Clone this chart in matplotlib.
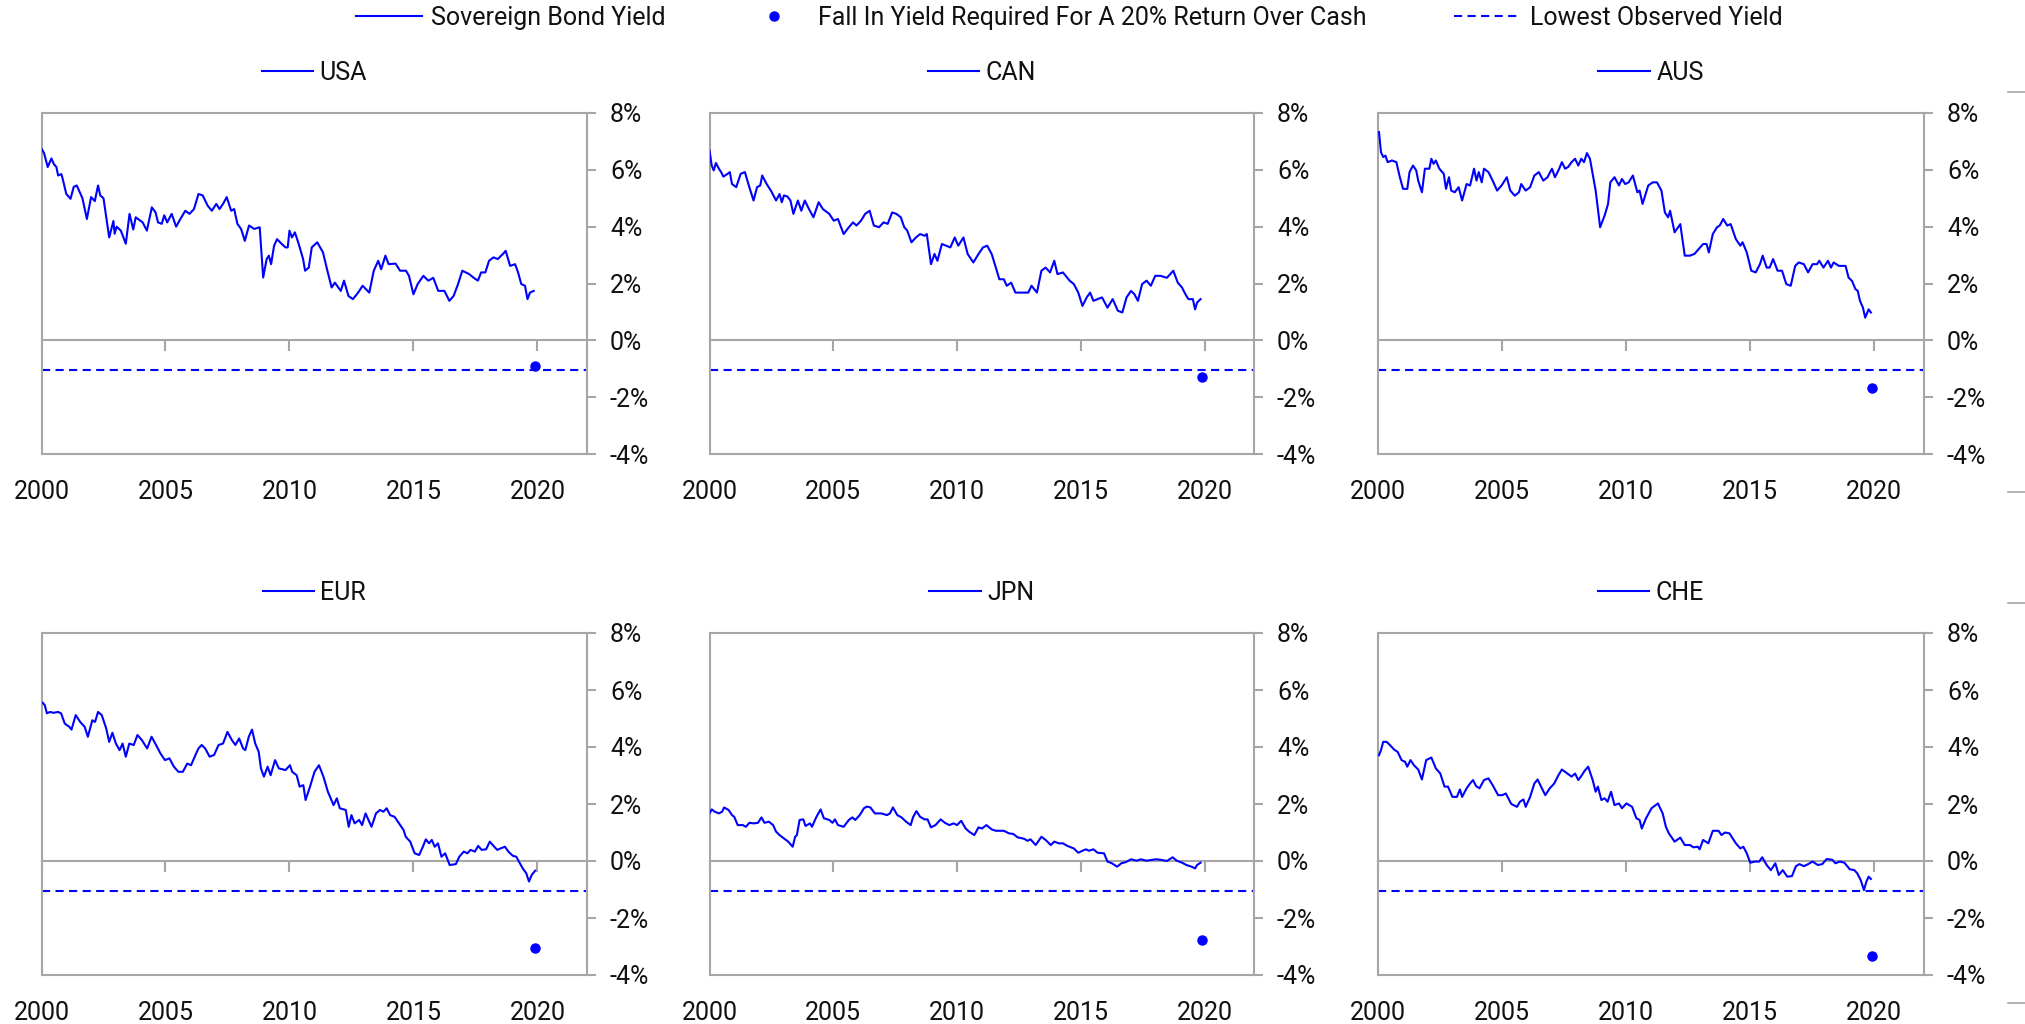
import matplotlib
matplotlib.use("Agg")
import matplotlib.pyplot as plt
from matplotlib.lines import Line2D

# 10y sovereign bond yields (%), sampled from 2000 to late 2019
usa_t = [2000.0, 2000.1, 2000.25, 2000.4, 2000.5, 2000.6, 2000.67, 2000.8, 2000.85, 2001.0,
         2001.1, 2001.17, 2001.3, 2001.42, 2001.5, 2001.65, 2001.83, 2002.0, 2002.15, 2002.28,
         2002.37, 2002.5, 2002.73, 2002.9, 2002.95, 2003.03, 2003.2, 2003.4, 2003.55, 2003.7,
         2003.8, 2004.08, 2004.25, 2004.45, 2004.6, 2004.7, 2004.85, 2004.95, 2005.07, 2005.25,
         2005.43, 2005.6, 2005.8, 2005.97, 2006.15, 2006.33, 2006.5, 2006.7, 2006.87, 2007.05,
         2007.18, 2007.32, 2007.47, 2007.65, 2007.77, 2007.9, 2008.05, 2008.2, 2008.37, 2008.58,
         2008.8, 2008.94, 2009.08, 2009.17, 2009.26, 2009.38, 2009.5, 2009.68, 2009.84, 2009.93,
         2010.0, 2010.1, 2010.22, 2010.37, 2010.55, 2010.63, 2010.78, 2010.9, 2011.12, 2011.35,
         2011.53, 2011.7, 2011.83, 2012.07, 2012.2, 2012.38, 2012.56, 2012.77, 2012.95, 2013.22,
         2013.4, 2013.58, 2013.7, 2013.87, 2014.0, 2014.28, 2014.46, 2014.7, 2014.82, 2015.0,
         2015.17, 2015.4, 2015.6, 2015.8, 2016.0, 2016.25, 2016.45, 2016.62, 2016.8, 2016.97,
         2017.25, 2017.43, 2017.6, 2017.73, 2017.9, 2018.05, 2018.23, 2018.4, 2018.6, 2018.72,
         2018.9, 2019.1, 2019.22, 2019.35, 2019.5, 2019.6, 2019.7, 2019.85]
usa_y = [6.74, 6.6, 6.1, 6.4, 6.2, 6.1, 5.8, 5.85, 5.7, 5.15,
         5.05, 4.98, 5.4, 5.45, 5.3, 5.0, 4.27, 5.04, 4.9, 5.45,
         5.1, 5.0, 3.62, 4.2, 3.75, 4.0, 3.86, 3.4, 4.45, 3.9,
         4.33, 4.15, 3.86, 4.68, 4.5, 4.15, 4.1, 4.4, 4.15, 4.45,
         4.0, 4.27, 4.56, 4.45, 4.62, 5.15, 5.1, 4.74, 4.56, 4.8,
         4.62, 4.8, 5.04, 4.56, 4.62, 4.1, 3.92, 3.5, 4.04, 3.92,
         3.98, 2.21, 2.86, 2.98, 2.68, 3.33, 3.56, 3.4, 3.27, 3.27,
         3.86, 3.62, 3.8, 3.4, 2.86, 2.45, 2.56, 3.27, 3.45, 3.1,
         2.45, 1.86, 2.03, 1.74, 2.1, 1.56, 1.45, 1.68, 1.92, 1.68,
         2.45, 2.8, 2.5, 2.98, 2.68, 2.7, 2.45, 2.45, 2.27, 1.62,
         1.98, 2.27, 2.1, 2.2, 1.74, 1.74, 1.39, 1.56, 1.98, 2.45,
         2.33, 2.2, 2.1, 2.39, 2.39, 2.8, 2.92, 2.86, 3.03, 3.15,
         2.62, 2.68, 2.39, 1.98, 1.92, 1.45, 1.68, 1.74]

can_t = [2000.0, 2000.09, 2000.17, 2000.26, 2000.38, 2000.47, 2000.56, 2000.73, 2000.82, 2000.91,
         2001.08, 2001.26, 2001.43, 2001.61, 2001.78, 2001.92, 2002.05, 2002.13, 2002.31, 2002.48,
         2002.69, 2002.83, 2002.92, 2003.01, 2003.15, 2003.27, 2003.39, 2003.57, 2003.71, 2003.85,
         2004.02, 2004.2, 2004.41, 2004.58, 2004.84, 2005.02, 2005.19, 2005.42, 2005.63, 2005.8,
         2005.94, 2006.12, 2006.29, 2006.47, 2006.64, 2006.85, 2007.03, 2007.2, 2007.38, 2007.55,
         2007.73, 2007.87, 2007.99, 2008.16, 2008.34, 2008.51, 2008.69, 2008.78, 2008.95, 2009.09,
         2009.21, 2009.39, 2009.56, 2009.73, 2009.91, 2010.05, 2010.26, 2010.43, 2010.66, 2010.87,
         2011.05, 2011.22, 2011.4, 2011.57, 2011.71, 2011.89, 2012.01, 2012.19, 2012.36, 2012.62,
         2012.88, 2013.01, 2013.23, 2013.41, 2013.58, 2013.76, 2013.93, 2014.06, 2014.28, 2014.55,
         2014.72, 2014.9, 2015.07, 2015.24, 2015.38, 2015.51, 2015.68, 2015.86, 2016.08, 2016.29,
         2016.5, 2016.68, 2016.85, 2017.03, 2017.17, 2017.31, 2017.48, 2017.66, 2017.83, 2018.01,
         2018.22, 2018.48, 2018.74, 2018.92, 2019.09, 2019.23, 2019.35, 2019.53, 2019.62, 2019.7,
         2019.84]
can_y = [6.68, 6.15, 5.98, 6.24, 6.04, 5.92, 5.76, 5.86, 5.92, 5.5,
         5.39, 5.86, 5.92, 5.39, 4.92, 5.39, 5.45, 5.8, 5.5, 5.27,
         4.92, 5.15, 4.86, 5.1, 5.06, 4.92, 4.45, 4.92, 4.56, 4.92,
         4.62, 4.33, 4.86, 4.62, 4.45, 4.21, 4.27, 3.74, 3.98, 4.15,
         4.04, 4.21, 4.45, 4.56, 4.04, 3.98, 4.15, 4.1, 4.5, 4.45,
         4.33, 3.98, 3.86, 3.45, 3.62, 3.74, 3.68, 3.74, 2.68, 3.04,
         2.8, 3.39, 3.33, 3.27, 3.62, 3.33, 3.62, 3.04, 2.74, 3.04,
         3.27, 3.33, 3.04, 2.56, 2.15, 2.15, 1.92, 2.03, 1.68, 1.68,
         1.68, 1.92, 1.68, 2.45, 2.56, 2.39, 2.8, 2.33, 2.39, 2.1,
         1.98, 1.68, 1.21, 1.51, 1.68, 1.39, 1.45, 1.51, 1.15, 1.45,
         1.04, 0.98, 1.51, 1.74, 1.62, 1.39, 1.98, 2.1, 1.92, 2.27,
         2.27, 2.2, 2.45, 2.03, 1.86, 1.62, 1.45, 1.45, 1.09, 1.33,
         1.45]

aus_t = [2000.04, 2000.12, 2000.21, 2000.3, 2000.39, 2000.56, 2000.74, 2000.88, 2001.01, 2001.18,
         2001.27, 2001.41, 2001.54, 2001.62, 2001.77, 2001.89, 2002.07, 2002.15, 2002.24, 2002.33,
         2002.47, 2002.65, 2002.74, 2002.86, 2002.95, 2003.09, 2003.25, 2003.39, 2003.57, 2003.71,
         2003.87, 2003.97, 2004.06, 2004.18, 2004.27, 2004.45, 2004.62, 2004.8, 2004.98, 2005.19,
         2005.33, 2005.51, 2005.68, 2005.77, 2005.95, 2006.13, 2006.3, 2006.48, 2006.66, 2006.83,
         2007.01, 2007.13, 2007.27, 2007.41, 2007.54, 2007.66, 2007.8, 2007.94, 2008.07, 2008.19,
         2008.3, 2008.42, 2008.54, 2008.77, 2008.95, 2009.13, 2009.27, 2009.36, 2009.53, 2009.71,
         2009.83, 2009.96, 2010.1, 2010.27, 2010.45, 2010.54, 2010.66, 2010.89, 2011.07, 2011.24,
         2011.42, 2011.56, 2011.69, 2011.77, 2011.95, 2012.18, 2012.36, 2012.57, 2012.75, 2012.92,
         2013.1, 2013.24, 2013.33, 2013.49, 2013.66, 2013.77, 2013.91, 2014.07, 2014.21, 2014.42,
         2014.6, 2014.69, 2014.86, 2015.04, 2015.22, 2015.39, 2015.5, 2015.66, 2015.78, 2015.92,
         2016.1, 2016.28, 2016.45, 2016.63, 2016.81, 2016.95, 2017.16, 2017.33, 2017.51, 2017.69,
         2017.78, 2017.95, 2018.13, 2018.25, 2018.36, 2018.57, 2018.71, 2018.84, 2018.96, 2019.1,
         2019.24, 2019.33, 2019.42, 2019.54, 2019.63, 2019.77, 2019.86]
aus_y = [7.33, 6.62, 6.45, 6.5, 6.27, 6.33, 6.27, 5.74, 5.33, 5.33,
         5.92, 6.15, 5.98, 5.62, 5.21, 6.04, 6.04, 6.39, 6.21, 6.33,
         6.04, 5.86, 5.33, 5.74, 5.27, 5.21, 5.39, 4.92, 5.5, 5.45,
         6.04, 5.62, 5.92, 5.56, 6.04, 5.92, 5.62, 5.27, 5.45, 5.74,
         5.27, 5.09, 5.21, 5.5, 5.27, 5.39, 5.8, 5.92, 5.62, 5.74,
         6.04, 5.74, 5.98, 6.27, 6.04, 6.1, 6.27, 6.39, 6.15, 6.39,
         6.27, 6.59, 6.39, 5.27, 3.98, 4.39, 4.8, 5.56, 5.74, 5.45,
         5.68, 5.5, 5.56, 5.8, 5.21, 5.27, 4.8, 5.45, 5.56, 5.56,
         5.27, 4.5, 4.33, 4.56, 3.8, 4.09, 2.98, 2.98, 3.04, 3.21,
         3.39, 3.39, 3.09, 3.74, 3.98, 4.04, 4.27, 4.04, 4.09, 3.56,
         3.33, 3.45, 3.09, 2.45, 2.39, 2.68, 2.98, 2.56, 2.56, 2.86,
         2.45, 2.45, 1.98, 1.92, 2.62, 2.74, 2.68, 2.39, 2.68, 2.68,
         2.8, 2.56, 2.8, 2.56, 2.74, 2.62, 2.62, 2.62, 2.21, 2.09,
         1.8, 1.74, 1.39, 1.15, 0.8, 1.09, 0.98]

eur_t = [2000.05, 2000.13, 2000.22, 2000.34, 2000.49, 2000.67, 2000.79, 2000.94, 2001.12, 2001.21,
         2001.38, 2001.56, 2001.74, 2001.87, 2002.05, 2002.16, 2002.28, 2002.43, 2002.61, 2002.73,
         2002.86, 2003.0, 2003.15, 2003.27, 2003.4, 2003.54, 2003.72, 2003.87, 2004.05, 2004.26,
         2004.44, 2004.62, 2004.8, 2004.98, 2005.16, 2005.34, 2005.52, 2005.7, 2005.88, 2006.03,
         2006.21, 2006.33, 2006.46, 2006.6, 2006.78, 2006.96, 2007.14, 2007.32, 2007.5, 2007.68,
         2007.82, 2007.97, 2008.13, 2008.22, 2008.36, 2008.49, 2008.62, 2008.76, 2008.85, 2008.97,
         2009.12, 2009.24, 2009.42, 2009.57, 2009.84, 2010.02, 2010.11, 2010.29, 2010.41, 2010.56,
         2010.65, 2010.83, 2011.01, 2011.19, 2011.37, 2011.55, 2011.78, 2011.91, 2012.03, 2012.27,
         2012.39, 2012.5, 2012.63, 2012.81, 2012.93, 2013.07, 2013.31, 2013.49, 2013.65, 2013.79,
         2013.92, 2014.06, 2014.24, 2014.42, 2014.6, 2014.69, 2014.87, 2015.05, 2015.23, 2015.38,
         2015.5, 2015.63, 2015.74, 2015.86, 2015.99, 2016.13, 2016.28, 2016.46, 2016.71, 2016.85,
         2017.03, 2017.18, 2017.3, 2017.48, 2017.61, 2017.75, 2017.93, 2018.08, 2018.26, 2018.38,
         2018.51, 2018.69, 2018.83, 2019.01, 2019.15, 2019.28, 2019.41, 2019.55, 2019.66, 2019.77,
         2019.91]
eur_y = [5.55, 5.47, 5.18, 5.23, 5.2, 5.23, 5.18, 4.82, 4.71, 4.61,
         5.12, 4.88, 4.71, 4.36, 4.94, 4.88, 5.23, 5.12, 4.65, 4.18,
         4.5, 4.12, 3.89, 4.12, 3.66, 4.12, 4.07, 4.42, 4.24, 3.95,
         4.36, 4.07, 3.77, 3.54, 3.6, 3.31, 3.13, 3.13, 3.42, 3.36,
         3.72, 3.95, 4.07, 3.95, 3.66, 3.72, 4.07, 4.12, 4.53, 4.24,
         4.07, 4.3, 3.95, 3.89, 4.36, 4.61, 4.12, 3.83, 3.25, 2.96,
         3.31, 3.01, 3.54, 3.25, 3.19, 3.36, 3.13, 3.01, 2.61, 2.66,
         2.14, 2.61, 3.13, 3.36, 2.96, 2.43, 1.96, 2.2, 1.85, 1.79,
         1.2, 1.61, 1.32, 1.44, 1.26, 1.67, 1.2, 1.67, 1.79, 1.73,
         1.85, 1.61, 1.55, 1.32, 1.09, 0.85, 0.68, 0.27, 0.21, 0.5,
         0.76, 0.62, 0.74, 0.5, 0.62, 0.15, 0.27, -0.14, -0.11, 0.15,
         0.33, 0.27, 0.39, 0.33, 0.53, 0.39, 0.41, 0.68, 0.5, 0.39,
         0.44, 0.5, 0.33, 0.18, 0.15, -0.06, -0.26, -0.43, -0.72, -0.49,
         -0.34]

jpn_t = [2000.0, 2000.09, 2000.21, 2000.38, 2000.51, 2000.59, 2000.77, 2000.91, 2001.0, 2001.14,
         2001.35, 2001.47, 2001.61, 2001.78, 2001.96, 2002.1, 2002.22, 2002.4, 2002.57, 2002.69,
         2002.83, 2003.01, 2003.18, 2003.36, 2003.46, 2003.53, 2003.64, 2003.79, 2003.88, 2004.06,
         2004.14, 2004.32, 2004.49, 2004.62, 2004.84, 2004.97, 2005.07, 2005.19, 2005.42, 2005.63,
         2005.77, 2005.89, 2006.07, 2006.24, 2006.36, 2006.5, 2006.68, 2006.94, 2007.17, 2007.29,
         2007.41, 2007.59, 2007.76, 2007.94, 2008.13, 2008.22, 2008.36, 2008.51, 2008.69, 2008.81,
         2008.95, 2009.13, 2009.34, 2009.51, 2009.69, 2009.86, 2010.0, 2010.17, 2010.35, 2010.49,
         2010.7, 2010.87, 2011.01, 2011.19, 2011.4, 2011.57, 2011.89, 2012.1, 2012.27, 2012.45,
         2012.71, 2012.85, 2012.97, 2013.18, 2013.41, 2013.58, 2013.79, 2013.93, 2014.11, 2014.28,
         2014.46, 2014.72, 2014.9, 2015.07, 2015.21, 2015.33, 2015.51, 2015.68, 2015.94, 2016.08,
         2016.26, 2016.47, 2016.64, 2016.82, 2017.03, 2017.26, 2017.43, 2017.66, 2017.87, 2018.04,
         2018.25, 2018.48, 2018.71, 2018.88, 2019.09, 2019.27, 2019.48, 2019.62, 2019.7, 2019.84]
jpn_y = [1.67, 1.81, 1.73, 1.67, 1.73, 1.88, 1.79, 1.61, 1.55, 1.26,
         1.26, 1.2, 1.34, 1.32, 1.34, 1.53, 1.34, 1.38, 1.26, 1.03,
         0.91, 0.79, 0.68, 0.5, 0.85, 0.91, 1.44, 1.46, 1.23, 1.32,
         1.2, 1.55, 1.81, 1.5, 1.44, 1.34, 1.46, 1.26, 1.2, 1.44,
         1.53, 1.44, 1.61, 1.85, 1.91, 1.88, 1.67, 1.67, 1.61, 1.67,
         1.88, 1.61, 1.53, 1.38, 1.26, 1.53, 1.75, 1.55, 1.46, 1.46,
         1.18, 1.26, 1.46, 1.34, 1.26, 1.32, 1.26, 1.41, 1.14, 1.03,
         0.91, 1.18, 1.14, 1.26, 1.11, 1.06, 1.06, 0.97, 0.95, 0.83,
         0.78, 0.71, 0.76, 0.56, 0.85, 0.74, 0.56, 0.68, 0.62, 0.62,
         0.53, 0.44, 0.29, 0.36, 0.41, 0.36, 0.41, 0.29, 0.27, -0.02,
         -0.08, -0.2, -0.08, -0.04, 0.06, 0.01, 0.06, 0.01, 0.04, 0.06,
         0.04, 0.0, 0.13, 0.01, -0.06, -0.14, -0.2, -0.26, -0.14, -0.06]

che_t = [2000.04, 2000.12, 2000.21, 2000.35, 2000.48, 2000.65, 2000.79, 2000.95, 2001.09, 2001.18,
         2001.31, 2001.45, 2001.62, 2001.77, 2001.94, 2002.15, 2002.33, 2002.51, 2002.68, 2002.82,
         2003.0, 2003.18, 2003.3, 2003.39, 2003.57, 2003.71, 2003.83, 2003.95, 2004.09, 2004.27,
         2004.45, 2004.62, 2004.84, 2005.01, 2005.15, 2005.37, 2005.6, 2005.72, 2005.86, 2005.95,
         2006.13, 2006.3, 2006.43, 2006.57, 2006.74, 2006.92, 2007.1, 2007.27, 2007.41, 2007.63,
         2007.8, 2007.94, 2008.07, 2008.19, 2008.33, 2008.47, 2008.65, 2008.77, 2008.86, 2009.0,
         2009.13, 2009.25, 2009.39, 2009.53, 2009.71, 2009.83, 2010.01, 2010.24, 2010.41, 2010.54,
         2010.63, 2010.8, 2011.02, 2011.28, 2011.47, 2011.6, 2011.72, 2011.95, 2012.18, 2012.36,
         2012.57, 2012.71, 2012.89, 2012.96, 2013.1, 2013.31, 2013.49, 2013.72, 2013.84, 2013.98,
         2014.16, 2014.42, 2014.6, 2014.72, 2014.86, 2015.0, 2015.18, 2015.36, 2015.48, 2015.66,
         2015.83, 2016.01, 2016.15, 2016.31, 2016.49, 2016.68, 2016.84, 2016.98, 2017.16, 2017.33,
         2017.51, 2017.72, 2017.9, 2018.08, 2018.31, 2018.43, 2018.61, 2018.79, 2019.01, 2019.19,
         2019.31, 2019.45, 2019.58, 2019.68, 2019.77, 2019.86]
che_y = [3.71, 3.89, 4.18, 4.18, 4.07, 3.91, 3.83, 3.54, 3.48, 3.31,
         3.54, 3.36, 3.21, 2.86, 3.54, 3.63, 3.25, 3.07, 2.61, 2.61,
         2.25, 2.25, 2.51, 2.25, 2.55, 2.72, 2.84, 2.63, 2.55, 2.84,
         2.9, 2.66, 2.31, 2.31, 2.37, 2.0, 1.9, 2.08, 2.16, 1.9,
         2.25, 2.72, 2.86, 2.61, 2.31, 2.55, 2.72, 3.01, 3.21, 3.07,
         2.96, 3.07, 2.84, 2.98, 3.17, 3.31, 2.84, 2.43, 2.61, 2.14,
         2.2, 2.08, 2.43, 1.96, 2.02, 1.85, 2.02, 1.9, 1.5, 1.44,
         1.14, 1.5, 1.85, 2.02, 1.67, 1.2, 0.97, 0.68, 0.82, 0.56,
         0.56, 0.48, 0.5, 0.41, 0.74, 0.62, 1.06, 1.06, 0.91, 1.0,
         0.97, 0.62, 0.44, 0.5, 0.27, -0.06, -0.02, -0.02, 0.13, -0.14,
         -0.32, -0.08, -0.49, -0.32, -0.55, -0.53, -0.18, -0.11, -0.18, -0.11,
         -0.02, -0.14, -0.11, 0.07, 0.04, -0.08, -0.02, -0.06, -0.29, -0.32,
         -0.43, -0.67, -1.02, -0.72, -0.55, -0.63]

countries = ["USA", "CAN", "AUS", "EUR", "JPN", "CHE"]
dates = [usa_t, can_t, aus_t, eur_t, jpn_t, che_t]
yields = [usa_y, can_y, aus_y, eur_y, jpn_y, che_y]

# yield fall needed for a 20% return over cash, and the lowest yield seen anywhere
fall_needed = [-0.90, -1.28, -1.67, -3.04, -2.76, -3.32]
fall_date = 2019.9
lowest_yield = -1.05

y_ticks = [-4, -2, 0, 2, 4, 6, 8]
x_ticks = [2000, 2005, 2010, 2015, 2020]

BLUE = "#0000ff"
GRAY = "#a6a6a6"
INK = "#111111"
DASH = (0, (3.9, 2.6))
FS = 18

plt.rcParams["font.family"] = ["Roboto", "DejaVu Sans"]
plt.rcParams["text.color"] = INK

W, H = 2025, 1024
fig = plt.figure(figsize=(W / 100, H / 100), dpi=100)

# panel boxes in pixels: (left, right) per column, (top, bottom) per row
cols = [(41.5, 587), (709.5, 1254), (1378, 1924)]
rows = [(113, 454), (633, 975)]

for i, name in enumerate(countries):
    l, r = cols[i % 3]
    t, b = rows[i // 3]
    ax = fig.add_axes([l / W, 1 - b / H, (r - l) / W, (b - t) / H])

    ax.plot(dates[i], yields[i], color=BLUE, lw=1.5, label=name, zorder=3)
    ax.axhline(lowest_yield, color=BLUE, lw=1.5, ls=DASH, zorder=2)
    ax.plot([fall_date], [fall_needed[i]], "o", color=BLUE, ms=6.5, zorder=4)

    ax.set_xlim(2000, 2022)
    ax.set_ylim(-4, 8)

    ax.yaxis.tick_right()
    ax.set_yticks(y_ticks)
    ax.set_yticklabels([f"{v}%" for v in y_ticks])
    ax.tick_params(axis="y", length=6.5, width=1.5, color=GRAY, pad=10,
                   labelsize=FS, labelcolor=INK)

    ax.set_xticks(x_ticks)
    ax.set_xticklabels([str(v) for v in x_ticks])
    ax.tick_params(axis="x", length=0, pad=19, labelsize=FS, labelcolor=INK)

    for sp in ax.spines.values():
        sp.set_color(GRAY)
        sp.set_linewidth(1.5)

    # axis line through zero with its own downward ticks
    zero = ax.secondary_xaxis(4 / 12)
    zero.set_xticks(x_ticks)
    zero.tick_params(axis="x", direction="out", length=7.7, width=1.5,
                     color=GRAY, labelbottom=False, labeltop=False)
    for sp in zero.spines.values():
        sp.set_color(GRAY)
        sp.set_linewidth(1.5)

    ax.legend(loc="center", bbox_to_anchor=(0.5, 1 + 40 / (b - t)), frameon=False,
              handlelength=2.05, handletextpad=0.26, fontsize=FS,
              borderpad=0, borderaxespad=0)

# top legend, one entry at a time
entries = [
    (Line2D([], [], color=BLUE, lw=1.5), "Sovereign Bond Yield", 356, 2.64, 0.36),
    (Line2D([], [], marker="o", ls="none", color=BLUE, ms=6.5),
     "Fall In Yield Required For A 20% Return Over Cash", 741, 2.64, 0.44),
    (Line2D([], [], color=BLUE, lw=1.5, ls=DASH), "Lowest Observed Yield", 1454, 2.52, 0.52),
]
for handle, text, x0, hl, tp in entries:
    fig.legend([handle], [text], loc="center left", bbox_to_anchor=(x0 / W, 1 - 18 / H),
               frameon=False, fontsize=FS, handlelength=hl, handletextpad=tp,
               borderpad=0, borderaxespad=0)

# short rule stubs on the right edge
for y in [92, 492, 603, 1003]:
    fig.add_artist(Line2D([2008 / W, 1], [1 - y / H, 1 - y / H], color=GRAY, lw=1.2))

fig.savefig("out.png", dpi=100)
